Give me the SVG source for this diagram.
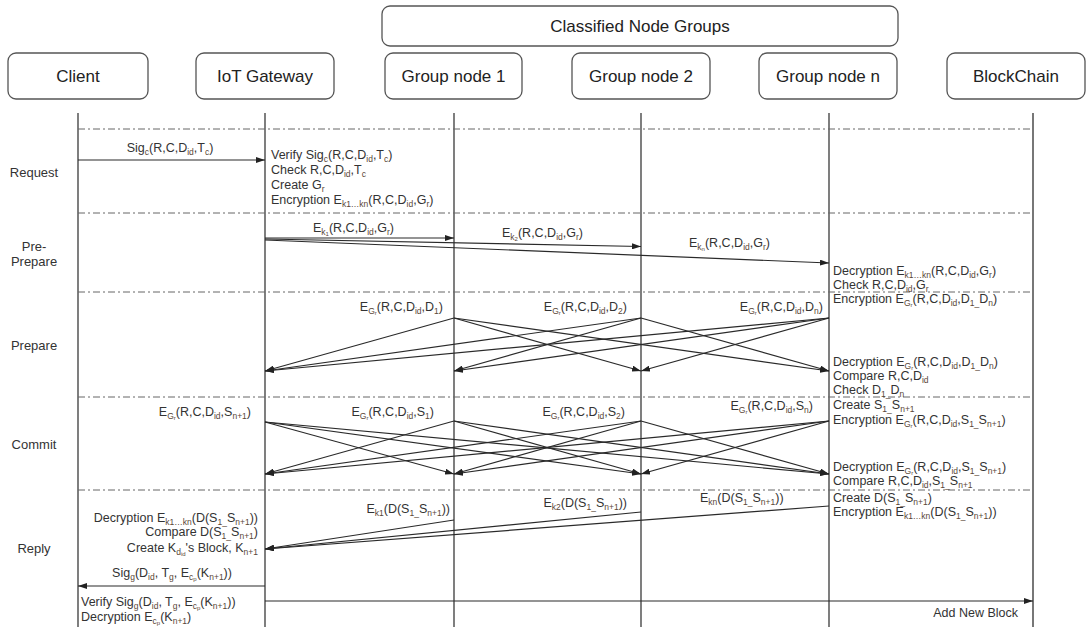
<svg xmlns="http://www.w3.org/2000/svg" width="1088" height="627" viewBox="0 0 1088 627">
  <style>
    text { font-family: "Liberation Sans", Arial, sans-serif; }
    .t { font-size: 12.5px; fill: #333; }
    .s { font-size: 8.5px; baseline-shift: -2.5px; fill: #5a4636; }
    .ss { font-size: 6px; baseline-shift: -1.5px; }
    .h { font-size: 17px; fill: #222; text-anchor: middle; }
    .ph { font-size: 13px; fill: #333; text-anchor: middle; }
    .e { text-anchor: end; }
    .m { text-anchor: middle; }
    .box { fill: #fff; stroke: #555; stroke-width: 1.3; }
    .life { stroke: #3a3a3a; stroke-width: 1.3; }
    .sep { stroke: #666; stroke-width: 1; stroke-dasharray: 7 3 2 3; }
    .msg { stroke: #2a2a2a; stroke-width: 1.2; fill: none; marker-end: url(#arr); }
  </style>
  <defs>
    <marker id="arr" markerUnits="userSpaceOnUse" markerWidth="9" markerHeight="6" refX="9" refY="3" orient="auto">
      <path d="M0,0 L9,3 L0,6 z" fill="#222"/>
    </marker>
  </defs>

  <!-- participants -->
  <g id="groups-header">
    <rect class="box" x="382" y="6" width="516" height="40" rx="8"/>
    <text class="h" x="640" y="32">Classified Node Groups</text>
  </g>
  <g id="client">
    <rect class="box" x="8" y="53" width="140" height="46" rx="8"/>
    <text class="h" x="78" y="82">Client</text>
  </g>
  <g id="gateway">
    <rect class="box" x="196" y="53" width="138" height="46" rx="8"/>
    <text class="h" x="265" y="82">IoT Gateway</text>
  </g>
  <g id="group-node-1">
    <rect class="box" x="385" y="53" width="137" height="46" rx="8"/>
    <text class="h" x="453.5" y="82">Group node 1</text>
  </g>
  <g id="group-node-2">
    <rect class="box" x="572" y="53" width="138" height="46" rx="8"/>
    <text class="h" x="641" y="82">Group node 2</text>
  </g>
  <g id="group-node-n">
    <rect class="box" x="759" y="53" width="138" height="46" rx="8"/>
    <text class="h" x="828" y="82">Group node n</text>
  </g>
  <g id="blockchain">
    <rect class="box" x="947" y="53" width="138" height="46" rx="8"/>
    <text class="h" x="1016" y="82">BlockChain</text>
  </g>

  <!-- lifelines -->
  <g id="lifelines">
    <line class="life" x1="78" y1="113" x2="78" y2="627"/>
    <line class="life" x1="265" y1="113" x2="265" y2="627"/>
    <line class="life" x1="454" y1="113" x2="454" y2="627"/>
    <line class="life" x1="641" y1="113" x2="641" y2="627"/>
    <line class="life" x1="829" y1="113" x2="829" y2="627"/>
    <line class="life" x1="1033" y1="113" x2="1033" y2="627" style="stroke:#777;stroke-width:2"/>
  </g>

  <!-- phase separators -->
  <g id="separators">
    <line class="sep" x1="78" y1="129" x2="1033" y2="129"/>
    <line class="sep" x1="78" y1="213" x2="1033" y2="213"/>
    <line class="sep" x1="78" y1="292" x2="1033" y2="292"/>
    <line class="sep" x1="78" y1="397" x2="1033" y2="397"/>
    <line class="sep" x1="78" y1="490" x2="1033" y2="490"/>
  </g>

  <!-- phase names -->
  <g id="phases">
    <text class="ph" x="34" y="177">Request</text>
    <text class="ph" x="34" y="251">Pre-</text>
    <text class="ph" x="34" y="266">Prepare</text>
    <text class="ph" x="34" y="350">Prepare</text>
    <text class="ph" x="34" y="449">Commit</text>
    <text class="ph" x="34" y="553">Reply</text>
  </g>

  <!-- messages -->
  <g id="connectors">
    <!-- request -->
    <line class="msg" x1="78" y1="160" x2="265" y2="160"/>
    <!-- pre-prepare -->
    <line class="msg" x1="265" y1="238" x2="454" y2="238"/>
    <line class="msg" x1="265" y1="239" x2="641" y2="246.5"/>
    <line class="msg" x1="265" y1="240" x2="829" y2="263"/>
    <!-- prepare: every group node to the others and the gateway -->
    <line class="msg" x1="454" y1="318" x2="265" y2="371"/>
    <line class="msg" x1="454" y1="318" x2="641" y2="371"/>
    <line class="msg" x1="454" y1="318" x2="829" y2="371"/>
    <line class="msg" x1="641" y1="318" x2="265" y2="371"/>
    <line class="msg" x1="641" y1="318" x2="454" y2="371"/>
    <line class="msg" x1="641" y1="318" x2="829" y2="371"/>
    <line class="msg" x1="829" y1="318" x2="265" y2="371"/>
    <line class="msg" x1="829" y1="318" x2="454" y2="371"/>
    <line class="msg" x1="829" y1="318" x2="641" y2="371"/>
    <!-- commit: full mesh of gateway and group nodes -->
    <line class="msg" x1="265" y1="422" x2="454" y2="474"/>
    <line class="msg" x1="265" y1="422" x2="641" y2="474"/>
    <line class="msg" x1="265" y1="422" x2="829" y2="474"/>
    <line class="msg" x1="454" y1="421" x2="265" y2="474"/>
    <line class="msg" x1="454" y1="421" x2="641" y2="474"/>
    <line class="msg" x1="454" y1="421" x2="829" y2="474"/>
    <line class="msg" x1="641" y1="421" x2="265" y2="474"/>
    <line class="msg" x1="641" y1="421" x2="454" y2="474"/>
    <line class="msg" x1="641" y1="421" x2="829" y2="474"/>
    <line class="msg" x1="829" y1="421" x2="265" y2="474"/>
    <line class="msg" x1="829" y1="421" x2="454" y2="474"/>
    <line class="msg" x1="829" y1="421" x2="641" y2="474"/>
    <!-- reply -->
    <line class="msg" x1="454" y1="520" x2="265" y2="549"/>
    <line class="msg" x1="641" y1="512" x2="265" y2="549"/>
    <line class="msg" x1="829" y1="506" x2="265" y2="549"/>
    <line class="msg" x1="265" y1="586" x2="78" y2="586"/>
    <line class="msg" x1="265" y1="601" x2="1033" y2="601"/>
  </g>

  <!-- message labels -->
  <g id="labels">
    <!-- request -->
    <text class="t m" x="170" y="152">Sig<tspan class="s">c</tspan>(R,C,D<tspan class="s">id</tspan>,T<tspan class="s">c</tspan>)</text>
    <text class="t" x="271" y="159">Verify Sig<tspan class="s">c</tspan>(R,C,D<tspan class="s">id</tspan>,T<tspan class="s">c</tspan>)</text>
    <text class="t" x="271" y="174">Check R,C,D<tspan class="s">id</tspan>,T<tspan class="s">c</tspan></text>
    <text class="t" x="271" y="189">Create G<tspan class="s">r</tspan></text>
    <text class="t" x="271" y="204">Encryption E<tspan class="s">k1…kn</tspan>(R,C,D<tspan class="s">id</tspan>,G<tspan class="s">r</tspan>)</text>

    <!-- pre-prepare -->
    <text class="t" x="313" y="232">E<tspan class="s">k<tspan class="ss">1</tspan></tspan>(R,C,D<tspan class="s">id</tspan>,G<tspan class="s">r</tspan>)</text>
    <text class="t" x="502" y="237">E<tspan class="s">k<tspan class="ss">2</tspan></tspan>(R,C,D<tspan class="s">id</tspan>,G<tspan class="s">r</tspan>)</text>
    <text class="t" x="689" y="247">E<tspan class="s">k<tspan class="ss">n</tspan></tspan>(R,C,D<tspan class="s">id</tspan>,G<tspan class="s">r</tspan>)</text>
    <text class="t" x="833" y="275">Decryption E<tspan class="s">k1…kn</tspan>(R,C,D<tspan class="s">id</tspan>,G<tspan class="s">r</tspan>)</text>
    <text class="t" x="833" y="289">Check R,C,D<tspan class="s">id</tspan>,G<tspan class="s">r</tspan></text>
    <text class="t" x="833" y="303">Encryption E<tspan class="s">G<tspan class="ss">r</tspan></tspan>(R,C,D<tspan class="s">id</tspan>,D<tspan class="s">1_</tspan>D<tspan class="s">n</tspan>)</text>

    <!-- prepare -->
    <text class="t e" x="443" y="311">E<tspan class="s">G<tspan class="ss">r</tspan></tspan>(R,C,D<tspan class="s">id</tspan>,D<tspan class="s">1</tspan>)</text>
    <text class="t e" x="627" y="311">E<tspan class="s">G<tspan class="ss">r</tspan></tspan>(R,C,D<tspan class="s">id</tspan>,D<tspan class="s">2</tspan>)</text>
    <text class="t e" x="823" y="311">E<tspan class="s">G<tspan class="ss">r</tspan></tspan>(R,C,D<tspan class="s">id</tspan>,D<tspan class="s">n</tspan>)</text>
    <text class="t" x="833" y="366">Decryption E<tspan class="s">G<tspan class="ss">r</tspan></tspan>(R,C,D<tspan class="s">id</tspan>,D<tspan class="s">1_</tspan>D<tspan class="s">n</tspan>)</text>
    <text class="t" x="833" y="380">Compare R,C,D<tspan class="s">id</tspan></text>
    <text class="t" x="833" y="394">Check D<tspan class="s">1_</tspan>D<tspan class="s">n</tspan></text>

    <!-- commit -->
    <text class="t e" x="251" y="416">E<tspan class="s">G<tspan class="ss">r</tspan></tspan>(R,C,D<tspan class="s">id</tspan>,S<tspan class="s">n+1</tspan>)</text>
    <text class="t e" x="434" y="416">E<tspan class="s">G<tspan class="ss">r</tspan></tspan>(R,C,D<tspan class="s">id</tspan>,S<tspan class="s">1</tspan>)</text>
    <text class="t e" x="625" y="416">E<tspan class="s">G<tspan class="ss">r</tspan></tspan>(R,C,D<tspan class="s">id</tspan>,S<tspan class="s">2</tspan>)</text>
    <text class="t e" x="813" y="410">E<tspan class="s">G<tspan class="ss">r</tspan></tspan>(R,C,D<tspan class="s">id</tspan>,S<tspan class="s">n</tspan>)</text>
    <text class="t" x="833" y="409">Create S<tspan class="s">1_</tspan>S<tspan class="s">n+1</tspan></text>
    <text class="t" x="833" y="424">Encryption E<tspan class="s">G<tspan class="ss">r</tspan></tspan>(R,C,D<tspan class="s">id</tspan>,S<tspan class="s">1_</tspan>S<tspan class="s">n+1</tspan>)</text>
    <text class="t" x="833" y="471">Decryption E<tspan class="s">G<tspan class="ss">r</tspan></tspan>(R,C,D<tspan class="s">id</tspan>,S<tspan class="s">1_</tspan>S<tspan class="s">n+1</tspan>)</text>
    <text class="t" x="833" y="485">Compare R,C,D<tspan class="s">id</tspan>,S<tspan class="s">1_</tspan>S<tspan class="s">n+1</tspan></text>

    <!-- reply -->
    <text class="t e" x="450" y="513">E<tspan class="s">k1</tspan>(D(S<tspan class="s">1_</tspan>S<tspan class="s">n+1</tspan>))</text>
    <text class="t e" x="627" y="507">E<tspan class="s">k2</tspan>(D(S<tspan class="s">1_</tspan>S<tspan class="s">n+1</tspan>))</text>
    <text class="t" x="700" y="502">E<tspan class="s">kn</tspan>(D(S<tspan class="s">1_</tspan>S<tspan class="s">n+1</tspan>))</text>
    <text class="t" x="833" y="502">Create D(S<tspan class="s">1_</tspan>S<tspan class="s">n+1</tspan>)</text>
    <text class="t" x="833" y="516">Encryption E<tspan class="s">k1…kn</tspan>(D(S<tspan class="s">1_</tspan>S<tspan class="s">n+1</tspan>))</text>
    <text class="t e" x="258" y="522">Decryption E<tspan class="s">k1…kn</tspan>(D(S<tspan class="s">1_</tspan>S<tspan class="s">n+1</tspan>))</text>
    <text class="t e" x="258" y="536">Compare D(S<tspan class="s">1_</tspan>S<tspan class="s">n+1</tspan>)</text>
    <text class="t e" x="258" y="552">Create K<tspan class="s">d<tspan class="ss">id</tspan></tspan>'s Block, K<tspan class="s">n+1</tspan></text>
    <text class="t m" x="172" y="577">Sig<tspan class="s">g</tspan>(D<tspan class="s">id</tspan>, T<tspan class="s">g</tspan>, E<tspan class="s">c<tspan class="ss">p</tspan></tspan>(K<tspan class="s">n+1</tspan>))</text>
    <text class="t" x="81" y="606">Verify Sig<tspan class="s">g</tspan>(D<tspan class="s">id</tspan>, T<tspan class="s">g</tspan>, E<tspan class="s">c<tspan class="ss">p</tspan></tspan>(K<tspan class="s">n+1</tspan>))</text>
    <text class="t" x="81" y="621">Decryption E<tspan class="s">c<tspan class="ss">p</tspan></tspan>(K<tspan class="s">n+1</tspan>)</text>
    <text class="t e" x="1018" y="617">Add New Block</text>
  </g>
</svg>
